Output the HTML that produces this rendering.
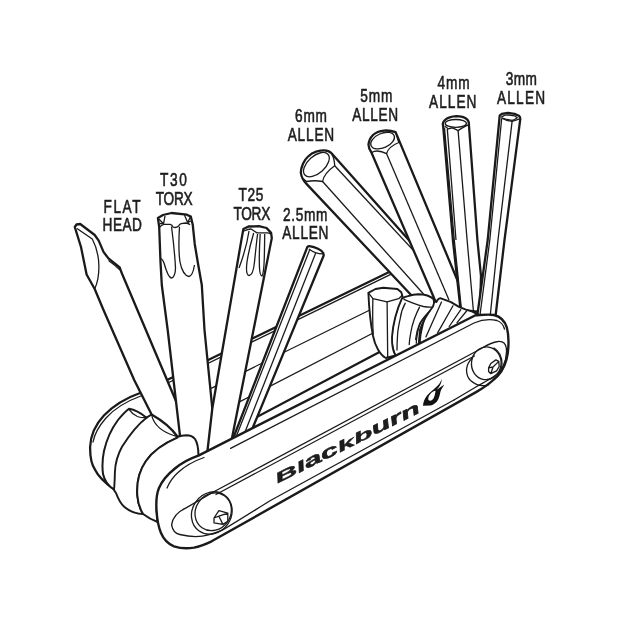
<!DOCTYPE html>
<html><head><meta charset="utf-8"><style>
html,body{margin:0;padding:0;background:#fff;}
svg{display:block;will-change:transform;}
text{font-family:"Liberation Sans",sans-serif;fill:#1e1e1e;}
</style></head><body>
<svg width="620" height="620" viewBox="0 0 620 620">
<rect width="620" height="620" fill="#fff"/>
<g font-size="18" stroke="#1e1e1e" stroke-width="0.60">
<text transform="translate(103.5,212.6) scale(0.760,1)" textLength="48.9" lengthAdjust="spacing">FLAT</text>
<text transform="translate(102.6,231.2) scale(0.760,1)" textLength="51.7" lengthAdjust="spacing">HEAD</text>
<text transform="translate(160.0,185.7) scale(0.760,1)" textLength="35.3" lengthAdjust="spacing">T30</text>
<text transform="translate(155.8,204.5) scale(0.760,1)" textLength="48.4" lengthAdjust="spacing">TORX</text>
<text transform="translate(238.4,200.9) scale(0.760,1)" textLength="33.0" lengthAdjust="spacing">T25</text>
<text transform="translate(233.5,219.7) scale(0.760,1)" textLength="48.4" lengthAdjust="spacing">TORX</text>
<text transform="translate(282.9,220.6) scale(0.760,1)" textLength="58.6" lengthAdjust="spacing">2.5mm</text>
<text transform="translate(282.3,239.0) scale(0.760,1)" textLength="60.7" lengthAdjust="spacing">ALLEN</text>
<text transform="translate(295.1,122.3) scale(0.760,1)" textLength="42.0" lengthAdjust="spacing">6mm</text>
<text transform="translate(287.7,141.3) scale(0.760,1)" textLength="61.2" lengthAdjust="spacing">ALLEN</text>
<text transform="translate(360.3,101.6) scale(0.760,1)" textLength="42.1" lengthAdjust="spacing">5mm</text>
<text transform="translate(352.2,121.0) scale(0.760,1)" textLength="60.3" lengthAdjust="spacing">ALLEN</text>
<text transform="translate(437.5,88.7) scale(0.760,1)" textLength="42.4" lengthAdjust="spacing">4mm</text>
<text transform="translate(429.0,107.9) scale(0.760,1)" textLength="62.5" lengthAdjust="spacing">ALLEN</text>
<text transform="translate(505.8,85.1) scale(0.760,1)" textLength="40.9" lengthAdjust="spacing">3mm</text>
<text transform="translate(497.0,104.4) scale(0.760,1)" textLength="63.3" lengthAdjust="spacing">ALLEN</text>
</g>
<!-- BACK PLATE -->
<g fill="#fff" stroke="#1a1a1a" stroke-width="2.3" stroke-linejoin="round" stroke-linecap="round">
<path stroke="none" d="M400,266.8 L141.3,392.5 C125.8,398 112.9,406 103.9,415.5 C95,425 90.5,436 90.1,447 C90,458 91.5,465 95.2,470 C98,476 104,482 114,489.4 L170,500 L330,420 Z"/>
<path fill="none" d="M400,266.8 L141.3,392.5 C125.8,398 112.9,406 103.9,415.5 C95,425 90.5,436 90.1,447 C90,458 91.5,465 95.2,470 C98,476 104,482 114,489.4"/>
</g>
<g fill="none" stroke="#1a1a1a" stroke-width="1.3" stroke-linecap="round">
<path d="M400,269.8 L142,395.5 C127,401 114,409 106,418 C99,426 94.5,434 93,442"/>
<!-- lines between plates -->
<path d="M205,391.3 L378,306"/>
<path d="M236,403.7 L378,330.5"/>
</g>
<g fill="none" stroke="#1a1a1a" stroke-width="2.3" stroke-linecap="round">
<path d="M252,419.5 L380,351.8"/>
</g>

<!-- RIGHT BITS (6mm,5mm,4mm,3mm back to front) -->
<g fill="#fff" stroke="#1a1a1a" stroke-width="2.3" stroke-linejoin="round" stroke-linecap="round">
<path d="M300.8,172.6 C301,167 304,160 308.1,156.5 C311,153.5 314,152.2 316.2,151.6 C319,150.8 322,150.4 324.2,150.4 C327,150.4 329.5,151.2 331.5,153.3 L440,275 L470,335 L445,330 L413,297 L306.5,183.9 C303.5,181 301.5,177.5 300.8,172.6 Z"/>
</g>
<g fill="none" stroke="#1a1a1a" stroke-width="1.3" stroke-linejoin="round">
<ellipse cx="316.4" cy="164.6" rx="15.5" ry="8.6" transform="rotate(-42 316.4 164.6)"/>
<path d="M303.5,179 L306.5,181.5 C312,180.5 317,180.5 322.6,181.5 C323.2,177.5 326,172 334.7,165.8 C334.6,161 333.5,157 331.5,153.7"/>
<path d="M322.6,181.5 L423.5,294"/>
<path d="M334.7,165.8 L440,279"/>
</g>
<g fill="#fff" stroke="#1a1a1a" stroke-width="2.3" stroke-linejoin="round" stroke-linecap="round">
<path d="M368.5,144.7 C368.8,141 370.5,137.5 373,135 C376,132.3 380,131 384,130.6 C388,130.3 392,130.8 395.6,132.1 L456.8,278.7 L478,335 L447,330 L433.2,296 L371.1,151.8 C369.5,149.5 368.6,147 368.5,144.7 Z"/>
</g>
<g fill="none" stroke="#1a1a1a" stroke-width="1.3" stroke-linejoin="round">
<ellipse cx="382.6" cy="140.6" rx="12.6" ry="7.2" transform="rotate(-24 382.6 140.6)"/>
<path d="M370,150.5 L371.7,152.5 C375,150.5 380,150.3 386.6,153.7 C387.5,150 390,146 398.8,142.5 L395.6,132.1"/>
<path d="M386.6,153.7 L449,300"/>
</g>
<g fill="#fff" stroke="#1a1a1a" stroke-width="2.3" stroke-linejoin="round" stroke-linecap="round">
<path d="M442.8,123.9 C443,122.5 443.5,121.5 444.5,120.5 C446,119 447.5,118 449.6,117.4 C452,116.6 454,116.3 456.4,116.2 C458.5,116.2 460.5,116.4 462.6,116.8 C464.5,117.5 466,118.3 467.1,119.3 C468,120.3 468.6,121.5 468.8,123 L477.4,240 L481,276 L480,312 L460.6,310 L452.9,240 L443.4,128.9 Z"/>
</g>
<g fill="none" stroke="#1a1a1a" stroke-width="1.3" stroke-linejoin="round">
<ellipse cx="455.8" cy="123.4" rx="10.6" ry="3.9"/>
<path d="M444.6,126 L445.6,126.7 L448.5,128.9 L451.9,127.8 L454.7,128.9 L458.1,130.6 L461.5,128.4 L466.5,125.6 L468.8,125"/>
<path d="M444.5,127.8 L454.3,240 L461.5,310"/>
<path d="M447.3,128.9 L456,240"/>
<path d="M458.1,130.6 L467.1,240 L473.5,312"/>
</g>
<g fill="#fff" stroke="#1a1a1a" stroke-width="2.3" stroke-linejoin="round" stroke-linecap="round">
<path d="M499.7,115.7 C500.3,114.8 501,114.3 501.7,113.9 L507.9,112.9 L514.6,113.9 L518.8,115.7 C519.8,116.6 520.3,117.6 520.3,118.8 L504.5,240 L494.5,325 L476,325 L487.7,240 L499.2,120.9 Z"/>
</g>
<g fill="none" stroke="#1a1a1a" stroke-width="1.3" stroke-linejoin="round">
<path d="M501.7,116.8 L504.8,115.2 L509,115 L514.6,115.8 L517.2,117.8 L514.6,119.5 L512.1,120.3 L506.9,119.5 L502.3,118 Z"/>
<path d="M502.3,118.3 L506.9,120.4 L512.1,121.4 L516.7,119.9 L519.3,118.8"/>
<path d="M512.1,121.4 L498,240 L490.3,315"/>
<path d="M501.7,118.3 L489.8,240 L480,315"/>
</g>
<!-- RIGHT PIVOT PIECES -->
<g fill="#fff" stroke="#1a1a1a" stroke-width="1.9" stroke-linejoin="round">
<!-- fan piece 4 (+ piece 3 area) -->
<path d="M429.8,308 C432,304 434,301 436.3,302 C437.5,299.5 438.5,298.3 440.2,298.1 L450.5,301.9 L459.5,307.1 L466,309.7 L472.4,311.6 L478.7,314.8 L480,330 L420,350 C419.5,343 420,336 421.5,330 C423,322 426,314 429.8,308 Z"/>
<!-- piece 2 -->
<path d="M402.7,298.1 C404.5,297 406,296.4 407.9,296.1 C411,295.2 414.5,294.4 418.2,294.2 C421.5,294.2 424.5,294.6 427.3,295.5 C430,296.5 432.5,297.8 433.7,299.4 C434.3,301.5 434.2,304 433,306.5 C428,313 423,320 420,330 L418,352 L395.5,356 C392.8,350 391.6,344 391.6,338.1 C392,326 395,313 401.9,296.1 Z"/>
<!-- hex stub -->
<path d="M368.4,292.9 L375.5,289 L383.2,287.7 L397.4,289 L401.3,292.3 L402.6,296.8 C397,309 393,323 392,337 C391.8,345 392.8,351 395.5,355.5 L385.8,358 C380,355 375,346 372.9,335.5 C370.3,322 369,308 368.4,292.9 Z"/>
</g>
<g fill="none" stroke="#1a1a1a" stroke-width="1.3" stroke-linejoin="round" stroke-linecap="round">
<path d="M368.4,292.9 L372.9,298.7 L387.1,301.9 L398.7,298.7 L402,295.5"/>
<path d="M387.1,301.9 L387.7,357"/>
<path d="M372.9,298.7 C372.5,312 372.7,325 373.2,334"/>
<path d="M404,299.4 C407,300.8 410,302 413.1,303.2 C416.5,304.5 420,305.7 423.4,306.5 C426.5,307.1 429.5,307.3 432.4,307.1"/>
<path d="M405.3,303.2 C402.5,308 401,313 400.2,318.7 C399,324 398,329 397.6,334.2 C397.2,340 397,345 397,350"/>
<path d="M419.5,307.1 C417.5,311 415.8,315 414.4,318.7 C412.5,324 411.2,329 410.5,334.2 C409.8,338 409.4,341 409.2,344.5"/>
<path d="M429.8,311 C426,315 423,319 420.8,322.6 C418.5,327 417.5,332 416.9,336.8 C416.5,339 416.3,341 416.3,343.2"/>
<path d="M427.9,312.9 C424.5,316.5 421.5,320 419.5,323.9 C417.5,328.5 416.2,334 415.6,339.4"/>
<path d="M441.5,302 L426,336.8"/>
<path d="M453,305.8 L437.6,332.9"/>
<path d="M460.8,309.7 L449.2,326.5"/>
<path d="M466.6,311 L457,322.6"/>
</g>
<!-- LEFT PIVOT -->
<g fill="#fff" stroke="#1a1a1a" stroke-width="2" stroke-linejoin="round" stroke-linecap="round">
<path stroke="none" d="M129,408.7 C135,409.5 141,413 146.5,417.7 L151.6,414.5 C154,421 161,428 169.7,432.6 C172.5,434 175,435.5 177.4,436.5 L177.4,437.7 C165,443 153,451 146,461 C139,471 136.5,483 137.3,495.2 C137.8,503 140,509 143.1,514 C135,514 128,510 124.2,506.8 C120,503 117.5,497 116,493 C114.5,491 114,490 114,489.4 C108,486 104.6,481 103,474 C102,466 102.5,458 104,451 C106.5,440 112,428 118,420 C122,415 126,411 129,408.7 Z"/>
<path fill="none" d="M146.5,417.7 C141,413 135,409.5 129,408.7 C126,411 122,415 118,420 C112,428 106.5,440 104,451 C102.5,458 102,466 103,474 C104.6,481 108,486 114,489.4 C114,490 114.5,491 116,493 C117.5,497 120,503 124.2,506.8 C128,510 135,514 143.1,514 C140,509 137.8,503 137.3,495.2 C136.5,483 139,471 146,461 C153,451 165,443 177.4,437.7"/>
<path fill="none" d="M146.5,417.7 L151.6,414.5"/>
</g>
<g fill="none" stroke="#1a1a1a" stroke-width="1.9" stroke-linejoin="round" stroke-linecap="round">
<path d="M146.5,417.7 C139,423.5 130,434 122,446.8 C117.5,455 115.3,463 114.9,472 C114.7,480 114.5,486 114,489.4"/>
</g>
<g fill="none" stroke="#1a1a1a" stroke-width="1.3" stroke-linejoin="round">
<path d="M129,409.4 C131,412.5 134,415 137.4,416.5 C140,417.5 143,417.8 146,417.7"/>
</g>
<!-- FLATHEAD -->
<g fill="#fff" stroke="#1a1a1a" stroke-width="2.3" stroke-linejoin="round" stroke-linecap="round">
<path d="M74.8,227 L76.5,224.5 L80.2,224 L94.7,235 L98.7,240.6 L103.5,251.9 L108.4,258.4 L119.7,267.3 L121.3,272 L184,420 L181,437 L177.4,436.5 C172,429 163,421 151.6,414.5 L134.2,380 L103.5,310 L94.7,289 L86.6,274.5 L81,247 Z"/>
</g>
<g fill="none" stroke="#1a1a1a" stroke-width="1.3" stroke-linejoin="round">
<path d="M77,228.5 L92.3,239 C96,246 98.7,255 98.9,266 C99,276 97.5,283 94.7,289"/>
<path d="M108.5,260.5 C112,263 116,266 120,270"/>
<path d="M151.6,414.5 C153,422 159,429.5 169.7,434 C172.5,435.2 175,436 177.4,436.5"/>
</g>
<!-- T30 -->
<g fill="#fff" stroke="#1a1a1a" stroke-width="2.3" stroke-linejoin="round" stroke-linecap="round">
<path d="M157.9,217.9 L163,215 L171.5,213 L186.9,214.7 L190.8,216.6 L192.7,224.4 L194.7,243.7 L197.9,263 L201.8,285 L204.5,330 L212.3,408.5 L215,475 L181,475 L180.3,438.4 L167.7,330 L161.8,285 L160.5,262 L159.2,227 Z"/>
</g>
<g fill="none" stroke="#1a1a1a" stroke-width="1.3" stroke-linejoin="round">
<path d="M159.8,227 C161,225.5 162.5,224.6 164.2,224.4 L170.3,224.4 C171.6,224.7 172.5,225.8 173,227 C174.8,227.8 176.8,227.6 178.4,226.3 C179.2,224.8 180,224 181.1,223.7 L185.8,223 C187.5,223.1 189,223.8 190,224.8"/>
<path d="M158.6,218.8 L163.5,223.8 M163.5,223.8 L165,216 M160,223.5 L163.5,223.8"/>
<path d="M190.5,216.8 L187.6,222.6 M187.6,222.6 L184.5,215 M190.8,221 L187.6,222.6"/>
<path d="M171.5,226.5 C173,238 175,258 175.5,268 C175.5,274 173.5,278 171.5,278 C169,278 166,270 164,263 C163,260 162,259 161,258.5"/>
<path d="M179.5,226.8 C178.8,238 178.5,252 180,262 C181.5,270 185,276 189,276.5 C191.5,276 193.5,271 194.5,265"/>
</g>
<!-- T25 -->
<g fill="#fff" stroke="#1a1a1a" stroke-width="2.3" stroke-linejoin="round" stroke-linecap="round">
<path d="M243.4,229 L248.5,226.5 L258.9,226.2 L266.6,228 L271.1,232.9 L271.8,238.1 L231.6,440 L207,455 L212.3,408.5 L241.5,239.4 Z"/>
</g>
<g fill="none" stroke="#1a1a1a" stroke-width="1.3" stroke-linejoin="round">
<path d="M244,231 C247,229.5 250,229 251.1,229 L257,232.9 L267.9,232.9 L271.3,234"/>
<path d="M249,231 C248,238 245,252 239,268"/>
<path d="M253.7,233 C251,242 248.5,252 247,262 C246,270 246.5,275 249,275.5 C252,275.5 253.7,270 254.5,262 C255.5,252 256.5,242 257.6,234"/>
<path d="M260.2,234 C259.5,245 259,258 259.5,268 C259.8,273 260.5,276 262,276 C263.5,274 264,268 264.3,258 C264.5,248 264.7,240 264.7,234"/>
</g>
<!-- 2.5mm -->
<g fill="#fff" stroke="#1a1a1a" stroke-width="2.3" stroke-linejoin="round" stroke-linecap="round">
<path d="M307.3,247.1 C308,246.3 308.8,246 309.5,246.1 C312,246.5 315,247.3 318,248.8 C320.5,250 322.5,251.5 323.1,252.9 C323.6,253.8 323.7,254.7 323.7,255.5 L251,432 L232.5,440 Z"/>
</g>
<g fill="none" stroke="#1a1a1a" stroke-width="1.3" stroke-linejoin="round">
<path d="M308.9,249 C311,250.5 313,251.8 315.4,252.6 C318,253.4 320.5,253.8 323,253.9"/>
<path d="M309.6,250 L236,437"/>
<path d="M315.8,252.8 L244.8,432.5"/>
</g>
<!-- T30 BASE -->
<g fill="#fff" stroke="#1a1a1a" stroke-width="2" stroke-linejoin="round">
<path d="M176.8,437.1 C180,436 183,435.3 186.4,435.2 C190,435.2 193,436.5 195,439 C197.5,443 198.5,448 198.4,455.6 L175,468.5 L159,488 L156.5,510 L157.6,522 C152,520 147,517 143.1,514 C140,509 137.8,503 137.3,495.2 C136.5,483 139,471 146,461 C153,451 165,443 177.4,437.7 Z"/>
</g>
<!-- FRONT PLATE -->
<g fill="#fff" stroke="#1a1a1a" stroke-width="2.4" stroke-linejoin="round">
<path d="M475.5,315.3 L198.4,455.6 C190,458.5 182,462.5 175,468.5 C168,474 162,481 159,488 C156.5,494 156,502 156.5,510 C157,519 158.5,527 161,533 C164,540 168,544 174,546.3 C180,548.3 187,548.7 194,547.6 C200,546.5 206,544 211.6,541.3 L476.5,391.9 C484,387.5 492,382 498.1,375.5 C503,370 506.5,362 507.8,353 C508.8,345 508.8,335 506.8,327.3 C504.5,320 500,316.5 494,315 C488,314 481,315 475.5,315.3 Z"/>
</g>
<g fill="none" stroke="#1a1a1a" stroke-width="1.3" stroke-linejoin="round" stroke-linecap="round">
<!-- left end bevel -->
<path d="M204,457.5 C194,461 185,466 178,472.5 C173,477 169.5,482 167,488"/>
<!-- highlight c -->
<path d="M230.6,448.4 L474,323 C481,320 490,319 497,320.5 C501,322 503.5,325 504.5,329"/>
<!-- recess top (double) -->
<path d="M171.6,524.8 C172.5,518 177,512 186.1,507.9 L215.2,491 L480,349.2 C486,345.5 492,342 498,341.5 C502.5,341 505.5,343 506.3,348 C507,354 505.5,361 503.2,366 C501,370.5 497.5,374 493.5,376.8 C488,380.5 482,383.5 476.3,386.8 L454,400"/>
<path d="M216,494.5 L474.4,356"/>
<!-- recess bottom -->
<path d="M171.6,524.8 C172.5,530 175,533.5 179.7,534.5 C188,536.5 196,537 202.3,536.1 C210,535 217,532.5 223.2,529.7 C238,521 252,512 270,500.8 L454,400"/>
<!-- left screw -->
<ellipse cx="211.8" cy="513" rx="22" ry="19.5" transform="rotate(-55 211.8 513)"/>
<ellipse cx="213.2" cy="511.8" rx="19.5" ry="17.5" transform="rotate(-55 213.2 511.8)"/>
<g transform="translate(0.5,1.2)"><path d="M213.5,516.8 L218.4,509.5 L227.3,511.9 L227.3,520 L222.4,523.2 L213.5,521.6 Z M218.4,515 L227.3,511.9 M218.4,515 L222.4,523.2 M218.4,515 L213.5,516.8"/></g>
<!-- right screw -->
<path d="M472.1,358.2 C469,361 467,365 466.5,369.5 C466.5,374 468,378 470.5,380.5 C473.5,383 477,385 480,385.4 C483,385.8 486,385.6 487.9,385.4"/>
<ellipse cx="486.3" cy="363.3" rx="14.8" ry="16.4" transform="rotate(8 486.3 363.3)"/>
<path d="M494,348 C499,351 502,357 502,364 C502,371 499,376 494,379"/>
<path d="M488.6,367.9 L490.8,363.5 L495.9,359.9 L498.8,361.4 L499.2,366.5 L496.6,370.8 L490.8,373.7 L488.6,371.5 Z M493,367 L498.8,361.4 M493,367 L490.8,373.7 M493,367 L488.6,367.9"/>
</g>
<!-- logo -->
<g transform="translate(277.5,483.5) rotate(-26.5)" font-size="14" font-weight="bold" font-style="italic" style="fill:#111;stroke:#111;stroke-width:0.35">
<text transform="translate(0.00,0) scale(2.351,1.00)">B</text>
<text transform="translate(23.77,0) scale(2.351,1.00)">l</text>
<text transform="translate(32.92,0) scale(2.351,1.22)">a</text>
<text transform="translate(51.22,0) scale(2.351,1.22)">c</text>
<text transform="translate(69.51,0) scale(2.351,1.00)">k</text>
<text transform="translate(87.81,0) scale(2.351,1.00)">b</text>
<text transform="translate(107.95,0) scale(2.351,1.22)">u</text>
<text transform="translate(128.04,0) scale(2.351,1.22)">r</text>
<text transform="translate(140.87,0) scale(2.351,1.22)">n</text>
</g>
<g transform="translate(412,372) scale(0.064516)"><path fill="#111" fill-rule="evenodd" d="M170,525 C175,470 190,420 230,370 C280,310 350,260 400,210 C430,180 450,140 460,105 C462,150 445,200 410,245 C400,258 390,268 385,275 C420,250 470,220 500,195 C480,240 450,270 440,310 C430,360 420,420 380,465 C350,495 310,515 280,520 Z M255,435 C245,400 260,360 300,320 C330,295 355,285 365,290 C360,330 350,380 330,415 C310,445 275,455 255,435 Z"/></g>
</svg>
</body></html>
